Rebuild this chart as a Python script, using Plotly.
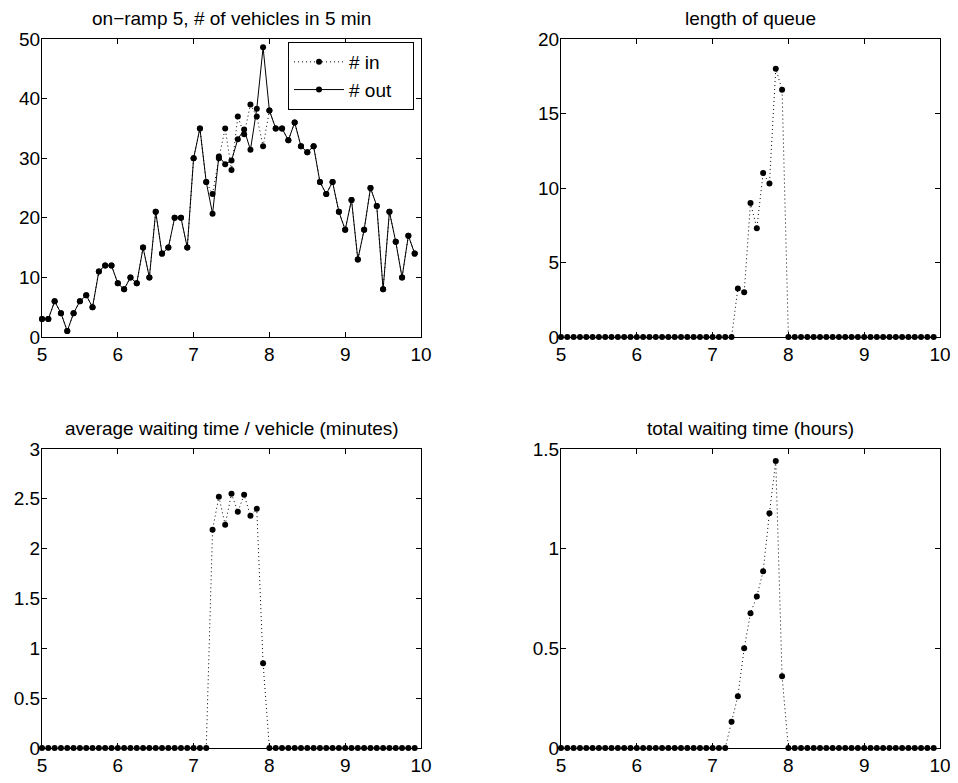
import numpy as np
import plotly.graph_objects as go

# time of day (hours), 5-minute steps from 5:00 to 9:55
times = list(5 + np.arange(60) / 12)

vehicles_in = [3, 3, 6, 4, 1, 4, 6, 7, 5, 11, 12, 12, 9, 8, 10, 9, 15, 10, 21, 14,
               15, 20, 20, 15, 30, 35, 26, 24, 30, 35, 28, 37, 34, 39, 37, 32, 38, 35, 35, 33,
               36, 32, 31, 32, 26, 24, 26, 21, 18, 23, 13, 18, 25, 22, 8, 21, 16, 10, 17, 14]
vehicles_out = [3, 3, 6, 4, 1, 4, 6, 7, 5, 11, 12, 12, 9, 8, 10, 9, 15, 10, 21, 14,
                15, 20, 20, 15, 30, 35, 26, 20.7, 30.3, 29, 29.6, 33.2, 34.8, 31.4, 38.3, 48.6, 38, 35, 35, 33,
                36, 32, 31, 32, 26, 24, 26, 21, 18, 23, 13, 18, 25, 22, 8, 21, 16, 10, 17, 14]
queue_len = [0] * 28 + [3.26, 3.0, 9.0, 7.3, 11.0, 10.3, 18.0, 16.6] + [0] * 24
avg_wait = [0] * 27 + [2.19, 2.52, 2.24, 2.55, 2.37, 2.54, 2.33, 2.40, 0.85] + [0] * 24
total_wait = [0] * 27 + [0.132, 0.26, 0.50, 0.676, 0.76, 0.887, 1.178, 1.44, 0.36] + [0] * 24

titles = ["on\u2212ramp 5, # of vehicles in 5 min", "length of queue",
          "average waiting time / vehicle (minutes)", "total waiting time (hours)"]
legend_names = ["# in", "# out"]
x_ticks = [5, 6, 7, 8, 9, 10]
y_ticks = [[0, 10, 20, 30, 40, 50], [0, 5, 10, 15, 20],
           [0, 0.5, 1, 1.5, 2, 2.5, 3], [0, 0.5, 1, 1.5]]

OFF = 8  # page body margin
W, H = 958 - 2 * OFF, 783 - 2 * OFF
FONT = "Liberation Sans, Arial, Helvetica, sans-serif"
FS = 19

# pixel boxes of the 4 axes in window coords (left, right, top, bottom)
boxes = [(42, 421, 39, 337), (561, 940, 39, 337), (42, 421, 449, 748), (561, 940, 449, 748)]

def px(v):
    return (v - OFF) / W

def py(v):
    return 1 - (v - OFF) / H

fig = go.Figure()
DOT = "1px,3px"
PAD = "\u00a0" * 3  # right padding inside the legend box

def add(i, y, name=None, dash=DOT, show=False):
    sfx = "" if i == 0 else str(i + 1)
    fig.add_trace(go.Scatter(
        x=times, y=y, mode="lines+markers", name=name, showlegend=show,
        line=dict(color="black", width=1, dash=dash),
        marker=dict(color="black", size=6),
        cliponaxis=False, xaxis="x" + sfx, yaxis="y" + sfx))

add(0, vehicles_in, legend_names[0] + PAD, DOT, True)
add(0, vehicles_out, legend_names[1] + PAD, "solid", True)
add(1, queue_len)
add(2, avg_wait)
add(3, total_wait)

layout = dict(width=W, height=H, margin=dict(l=0, r=0, t=0, b=0),
              paper_bgcolor="white", plot_bgcolor="white",
              font=dict(family=FONT, size=FS, color="black"))
ann = []
for i, (l, r, t, b) in enumerate(boxes):
    sfx = "" if i == 0 else str(i + 1)
    ax = dict(showline=True, linecolor="black", linewidth=1, mirror="allticks",
              ticks="inside", ticklen=5, tickcolor="black", tickwidth=1,
              showgrid=False, zeroline=False, automargin=False,
              ticklabeloverflow="allow",
              tickfont=dict(family=FONT, size=FS, color="black"))
    layout["xaxis" + sfx] = dict(ax, domain=[px(l), px(r)], range=[5, 10],
                                  tickvals=x_ticks, anchor="y" + sfx)
    yt = y_ticks[i]
    layout["yaxis" + sfx] = dict(ax, domain=[py(b), py(t)], range=[yt[0], yt[-1]],
                                  tickvals=yt, anchor="x" + sfx, ticklabelstandoff=-3)
    ann.append(dict(text=titles[i], x=px((l + r) / 2), y=py(t - 21),
                    xref="paper", yref="paper", xanchor="center", yanchor="middle",
                    showarrow=False, font=dict(family=FONT, size=FS, color="black")))
layout["annotations"] = ann
layout["legend"] = dict(x=px(288), y=py(76), xanchor="left", yanchor="middle",
                        bordercolor="black", borderwidth=1, bgcolor="white",
                        itemwidth=50, tracegroupgap=0,
                        font=dict(family=FONT, size=FS, color="black"))
fig.update_layout(**layout)
fig.write_html("out.html")
